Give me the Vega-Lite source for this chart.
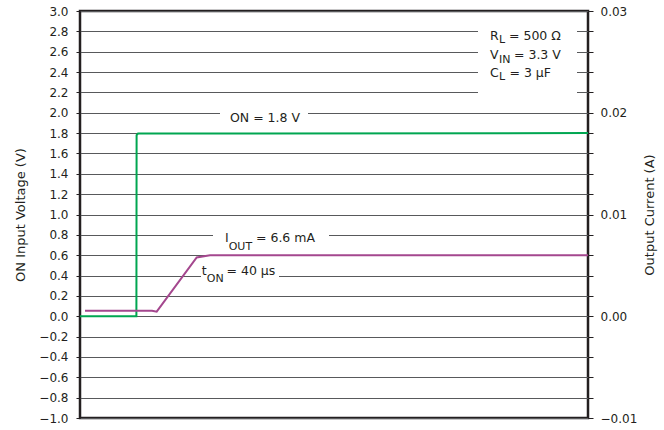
{
  "$schema": "https://vega.github.io/schema/vega-lite/v6.json",
  "width": 508,
  "height": 407,
  "autosize": {"type": "none"},
  "padding": {"left": 80, "top": 11, "right": 76, "bottom": 12},
  "background": "white",
  "config": {
    "view": {"stroke": "#231f20", "strokeWidth": 2.5},
    "font": "DejaVu Sans",
    "axis": {
      "labelFont": "DejaVu Sans",
      "labelFontSize": 12,
      "labelColor": "#231f20",
      "titleFont": "DejaVu Sans",
      "titleFontSize": 13,
      "titleFontWeight": "normal",
      "titleColor": "#231f20",
      "tickColor": "#231f20",
      "tickWidth": 1,
      "domain": false,
      "labelFlush": false,
      "labelOverlap": false
    }
  },
  "datasets": {
    "voltage": [
      {"t": 0, "v": 0},
      {"t": 56.4, "v": 0},
      {"t": 56.6, "v": 1.78},
      {"t": 58, "v": 1.795},
      {"t": 508, "v": 1.8}
    ],
    "current": [
      {"t": 5, "i": 0.00055},
      {"t": 72, "i": 0.00055},
      {"t": 76.7, "i": 0.00045},
      {"t": 116.7, "i": 0.00578},
      {"t": 130, "i": 0.006},
      {"t": 508, "i": 0.006}
    ],
    "boxes": [
      {"t": 398, "t2": 497, "v": 2.1, "v2": 2.9},
      {"t": 140, "t2": 228, "v": 1.88, "v2": 2.12},
      {"t": 133, "t2": 249, "v": 0.66, "v2": 0.92},
      {"t": 121, "t2": 199, "v": 0.3, "v2": 0.5}
    ],
    "labels": [
      {"t": 410, "v": 2.715, "text": "R"},
      {"t": 429, "v": 2.715, "text": "= 500 Ω"},
      {"t": 410, "v": 2.525, "text": "V"},
      {"t": 434, "v": 2.525, "text": "= 3.3 V"},
      {"t": 410, "v": 2.348, "text": "C"},
      {"t": 429.5, "v": 2.348, "text": "= 3 µF"},
      {"t": 150, "v": 1.912, "text": "ON = 1.8 V"},
      {"t": 145, "v": 0.73, "text": "I"},
      {"t": 176, "v": 0.73, "text": "= 6.6 mA"},
      {"t": 121.7, "v": 0.408, "text": "t"},
      {"t": 146.5, "v": 0.408, "text": "= 40 µs"}
    ],
    "subscripts": [
      {"t": 419, "v": 2.683, "text": "L"},
      {"t": 419, "v": 2.492, "text": "IN"},
      {"t": 419, "v": 2.322, "text": "L"},
      {"t": 148.7, "v": 0.648, "text": "OUT"},
      {"t": 126.8, "v": 0.337, "text": "ON"}
    ]
  },
  "resolve": {"scale": {"y": "independent"}},
  "layer": [
    {
      "encoding": {
        "x": {"field": "t", "type": "quantitative", "scale": {"domain": [0, 508], "nice": false, "zero": false}, "axis": null},
        "y": {
          "field": "v",
          "type": "quantitative",
          "scale": {"domain": [-1, 3], "nice": false, "zero": false},
          "axis": {
            "title": "ON Input Voltage (V)",
            "orient": "left",
            "values": [-1, -0.8, -0.6, -0.4, -0.2, 0, 0.2, 0.4, 0.6, 0.8, 1, 1.2, 1.4, 1.6, 1.8, 2, 2.2, 2.4, 2.6, 2.8, 3],
            "format": ".1f",
            "grid": true,
            "gridColor": "#58595b",
            "gridWidth": 1,
            "tickSize": 4,
            "labelPadding": 8,
            "titlePadding": 11
          }
        }
      },
      "layer": [
        {
          "data": {"name": "boxes"},
          "mark": {"type": "rect", "fill": "white", "stroke": null},
          "encoding": {"x2": {"field": "t2"}, "y2": {"field": "v2"}}
        },
        {
          "data": {"name": "voltage"},
          "mark": {"type": "line", "color": "#00a651", "strokeWidth": 2}
        },
        {
          "data": {"name": "labels"},
          "mark": {"type": "text", "align": "left", "baseline": "alphabetic", "fontSize": 12.5, "color": "#231f20"},
          "encoding": {"text": {"field": "text"}}
        },
        {
          "data": {"name": "subscripts"},
          "mark": {"type": "text", "align": "left", "baseline": "alphabetic", "fontSize": 11, "color": "#231f20"},
          "encoding": {"text": {"field": "text"}}
        }
      ]
    },
    {
      "data": {"name": "current"},
      "mark": {"type": "line", "color": "#a4478e", "strokeWidth": 2},
      "encoding": {
        "x": {"field": "t", "type": "quantitative", "scale": {"domain": [0, 508], "nice": false, "zero": false}, "axis": null},
        "y": {
          "field": "i",
          "type": "quantitative",
          "scale": {"domain": [-0.01, 0.03], "nice": false, "zero": false},
          "axis": {
            "title": "Output Current (A)",
            "orient": "right",
            "values": [-0.01, -0.008, -0.006, -0.004, -0.002, 0, 0.002, 0.004, 0.006, 0.008, 0.01, 0.012, 0.014, 0.016, 0.018, 0.02, 0.022, 0.024, 0.026, 0.028, 0.03],
            "labelExpr": "abs(datum.value * 100 - round(datum.value * 100)) < 0.000001 ? format(datum.value, '.2f') : ''",
            "grid": false,
            "tickSize": 5,
            "labelPadding": 7,
            "titleAngle": -90,
            "titleBaseline": "top",
            "titlePadding": 7
          }
        }
      }
    }
  ]
}
